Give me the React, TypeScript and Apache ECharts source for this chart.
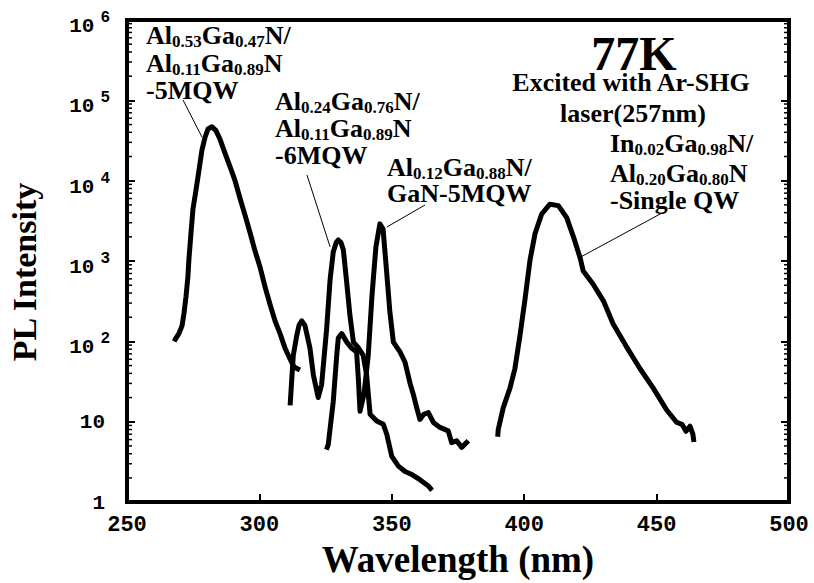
import React, { useEffect, useRef } from 'react';
import * as echarts from 'echarts';

// ---- data (wavelength nm, PL intensity) ----
const A_NM = [267.8, 268.5, 269.6, 270.8, 271.5, 272.3, 273.0, 273.4, 274.2, 274.9, 276.1, 277.2, 278.3, 279.5, 280.6, 282.1, 283.6, 285.1, 287.0, 288.9, 290.8, 292.7, 294.6, 296.4, 298.3, 300.2, 302.1, 304.0, 305.9, 307.8, 309.7, 311.6, 313.1, 315.3];
const A_VAL = [100, 110, 125, 157, 220, 365, 640, 1070, 2300, 4400, 7800, 13600, 24000, 35000, 44000, 47000, 42000, 33000, 22000, 15000, 10000, 6000, 3700, 2300, 1350, 850, 480, 290, 180, 125, 82, 60, 48, 44];

const B_NM = [311.6, 312.8, 314.1, 315.0, 316.0, 317.2, 319.1, 320.4, 322.2, 323.5, 325.4, 326.7, 327.9, 329.0, 329.8, 330.8, 331.7, 333.0, 334.2, 335.5, 337.2, 339.2, 340.5, 341.8, 344.3, 346.8, 348.1, 350.0, 352.5, 355.0, 357.6, 360.6, 363.7, 365.2];
const B_VAL = [16, 67, 118, 160, 180, 158, 82, 38, 20, 29, 145, 590, 1300, 1700, 1830, 1700, 1380, 530, 209, 98, 85, 67, 38, 12.4, 10.2, 9.3, 7, 3.7, 2.8, 2.4, 2.2, 1.9, 1.6, 1.4];

const D_NM = [325.3, 326.0, 327.9, 329.2, 329.8, 331.1, 333.0, 334.9, 336.7, 337.4, 338.0, 339.5, 341.1, 342.5, 344.0, 345.5, 346.7, 348.1, 349.3, 350.6, 353.1, 355.0, 356.9, 358.1, 359.4, 360.6, 362.1, 363.8, 365.7, 368.2, 371.3, 372.6, 374.5, 376.4, 378.9];
const D_VAL = [4.5, 5.2, 18, 67, 110, 125, 98, 82, 74, 33, 13.5, 22, 67, 365, 1500, 2900, 2500, 700, 228, 98, 74, 55, 30, 22, 15, 10.7, 12.4, 13, 9.8, 8.5, 7.7, 5.5, 5.8, 4.8, 5.8];

const E_NM = [390.0, 390.2, 392.1, 394.6, 396.5, 398.4, 400.3, 402.2, 404.1, 406.6, 409.7, 412.9, 416.0, 418.6, 421.1, 422.3, 426.1, 429.9, 433.6, 438.7, 443.7, 448.8, 453.8, 457.6, 459.6, 461.1, 462.6, 463.7, 464.1];
const E_VAL = [6.5, 8, 15, 26, 46, 118, 333, 1030, 2200, 3850, 5100, 4900, 3500, 2000, 1100, 750, 510, 320, 165, 85, 46, 26, 14, 9.8, 9.3, 7.6, 8.8, 7, 5.6];

const X_MIN = 250;
const X_MAX = 500;
const X_STEP = 50;
const Y_MIN = 1;
const Y_MAX = 1e6;
const MINOR_TICKS: number[] = [];
for (let e = 0; e < 6; e++) for (let m = 2; m <= 9; m++) MINOR_TICKS.push(m * Math.pow(10, e));

// annotation pointer tips (data coords)
const TIP_A = [278.3, 35000];
const TIP_B = [326.7, 1500];
const TIP_D = [348.1, 2650];
const TIP_E = [421.7, 1140];

export default function App() {
  const ref = useRef<HTMLDivElement>(null);
  useEffect(() => {
    const chart = echarts.init(ref.current!, null, { renderer: 'svg' });
    const serif = 'Liberation Serif, "Times New Roman", serif';
    const mono = 'Liberation Mono, "Courier New", monospace';
    const pair = (xs: number[], ys: number[]) => xs.map((x, i) => [x, ys[i]]);
    const lineSeries = (name: string, xs: number[], ys: number[]) => ({
      type: 'line', name, data: pair(xs, ys), showSymbol: false, symbol: 'none',
      lineStyle: { color: '#000', width: 5, join: 'round', cap: 'butt' },
      itemStyle: { color: '#000' }, silent: true, z: 3,
    });
    const tickLabel = { fontFamily: mono, fontWeight: 'bold', color: '#000' };
    chart.setOption({
      animation: false,
      grid: { left: 127, right: 25, top: 20, bottom: 74, show: true, borderColor: '#000', borderWidth: 4 },
      xAxis: {
        type: 'value', min: X_MIN, max: X_MAX, interval: X_STEP,
        axisLine: { show: true, onZero: false, lineStyle: { color: '#000', width: 4 } },
        axisTick: { inside: true, length: 8, lineStyle: { color: '#000', width: 2 } },
        splitLine: { show: false },
        axisLabel: { margin: 12, fontSize: 22, ...tickLabel },
        name: 'Wavelength (nm)', nameLocation: 'middle', nameGap: 32,
        nameTextStyle: { fontFamily: serif, fontWeight: 'bold', fontSize: 37, color: '#000' },
      },
      yAxis: [
        {
          type: 'log', logBase: 10, min: Y_MIN, max: Y_MAX, splitNumber: 6,
          axisLine: { show: true, onZero: false, lineStyle: { color: '#000', width: 4 } },
          axisTick: { inside: true, length: 8, lineStyle: { color: '#000', width: 2 } },
          splitLine: { show: false },
          axisLabel: {
            margin: 17,
            formatter: (v: number) => {
              const e = Math.round(Math.log10(v));
              if (e === 0) return '{c|1}';
              if (e === 1) return '{c|10}';
              return '{a|10}{b|' + e + '}';
            },
            rich: {
              a: { ...tickLabel, fontSize: 21, padding: [13, 0, 0, 0] },
              b: { ...tickLabel, fontSize: 16, padding: [0, 0, 4, 6] },
              c: { ...tickLabel, fontSize: 21, padding: [2, 5, 0, 0] },
            },
          },
        },
        {
          type: 'log', logBase: 10, min: Y_MIN, max: Y_MAX, splitNumber: 6, position: 'right',
          axisLine: { show: true, onZero: false, lineStyle: { color: '#000', width: 4 } },
          axisTick: { inside: true, length: 8, lineStyle: { color: '#000', width: 2 } },
          splitLine: { show: false }, axisLabel: { show: false },
        },
      ],
      series: [
        lineSeries('Al0.53Ga0.47N/Al0.11Ga0.89N-5MQW', A_NM, A_VAL),
        lineSeries('Al0.24Ga0.76N/Al0.11Ga0.89N-6MQW', B_NM, B_VAL),
        lineSeries('Al0.12Ga0.88N/GaN-5MQW', D_NM, D_VAL),
        lineSeries('In0.02Ga0.98N/Al0.20Ga0.80N-Single QW', E_NM, E_VAL),
        {
          type: 'custom', name: 'minor ticks', silent: true, clip: false,
          data: MINOR_TICKS.map((v) => [X_MIN, v]),
          renderItem: (_p: any, api: any) => {
            const v = api.value(1);
            const l = api.coord([X_MIN, v]);
            const r = api.coord([X_MAX, v]);
            const st = { stroke: '#000', lineWidth: 1.5 };
            return {
              type: 'group',
              children: [
                { type: 'line', shape: { x1: l[0], y1: l[1], x2: l[0] + 5, y2: l[1] }, style: st },
                { type: 'line', shape: { x1: r[0] - 5, y1: r[1], x2: r[0], y2: r[1] }, style: st },
              ],
            };
          },
        },
      ],
    });

    const main = { fontFamily: serif, fontWeight: 'bold', fontSize: 26, fill: '#000' };
    const rich = {
      m: { fontFamily: serif, fontWeight: 'bold', fontSize: 26, color: '#000' },
      s: { fontFamily: serif, fontWeight: 'bold', fontSize: 17, color: '#000', padding: [12, 0, 0, 0] },
    };
    const rt = (id: string, x: number, y: number, text: string, align = 'left') => ({
      type: 'text', id, x, y, z: 10,
      style: { text, rich, align, verticalAlign: 'middle', ...main },
    });
    const px = (p: number[]) => chart.convertToPixel({ gridIndex: 0 }, p) as number[];
    const ln = (id: string, x1: number, y1: number, tip: number[]) => {
      const t = px(tip);
      return { type: 'line', id, z: 10, shape: { x1, y1, x2: t[0], y2: t[1] }, style: { stroke: '#000', lineWidth: 1 } };
    };
    chart.setOption({
      graphic: [
        rt('a1', 146, 35, '{m|Al}{s|0.53}{m|Ga}{s|0.47}{m|N/}'),
        rt('a2', 146, 63, '{m|Al}{s|0.11}{m|Ga}{s|0.89}{m|N}'),
        rt('a3', 146, 90, '{m|-5MQW}'),
        ln('la', 183, 100, TIP_A),
        rt('b1', 275, 101, '{m|Al}{s|0.24}{m|Ga}{s|0.76}{m|N/}'),
        rt('b2', 275, 128, '{m|Al}{s|0.11}{m|Ga}{s|0.89}{m|N}'),
        rt('b3', 275, 155, '{m|-6MQW}'),
        ln('lb', 307, 175, TIP_B),
        rt('d1', 387, 167, '{m|Al}{s|0.12}{m|Ga}{s|0.88}{m|N/}'),
        rt('d2', 387, 193, '{m|GaN-5MQW}'),
        ln('ld', 425, 205, TIP_D),
        {
          type: 'text', id: 'k', x: 634, y: 53, z: 10,
          style: { text: '77K', align: 'center', verticalAlign: 'middle', fontFamily: serif, fontWeight: 'bold', fontSize: 48, fill: '#000' },
        },
        rt('x1', 631, 82, '{m|Excited with Ar-SHG}', 'center'),
        rt('x2', 633, 113, '{m|laser(257nm)}', 'center'),
        rt('e1', 610, 143, '{m|In}{s|0.02}{m|Ga}{s|0.98}{m|N/}'),
        rt('e2', 610, 173, '{m|Al}{s|0.20}{m|Ga}{s|0.80}{m|N}'),
        rt('e3', 610, 200, '{m|-Single QW}'),
        ln('le', 662, 213, TIP_E),
        {
          type: 'text', id: 'yt', x: 24, y: 272, rotation: Math.PI / 2, z: 10,
          style: { text: 'PL Intensity', align: 'center', verticalAlign: 'middle', fontFamily: serif, fontWeight: 'bold', fontSize: 34, fill: '#000' },
        },
      ],
    });
    return () => chart.dispose();
  }, []);
  return <div ref={ref} style={{ position: 'fixed', left: 0, top: 0, width: 814, height: 583, background: '#fff' }} />;
}
